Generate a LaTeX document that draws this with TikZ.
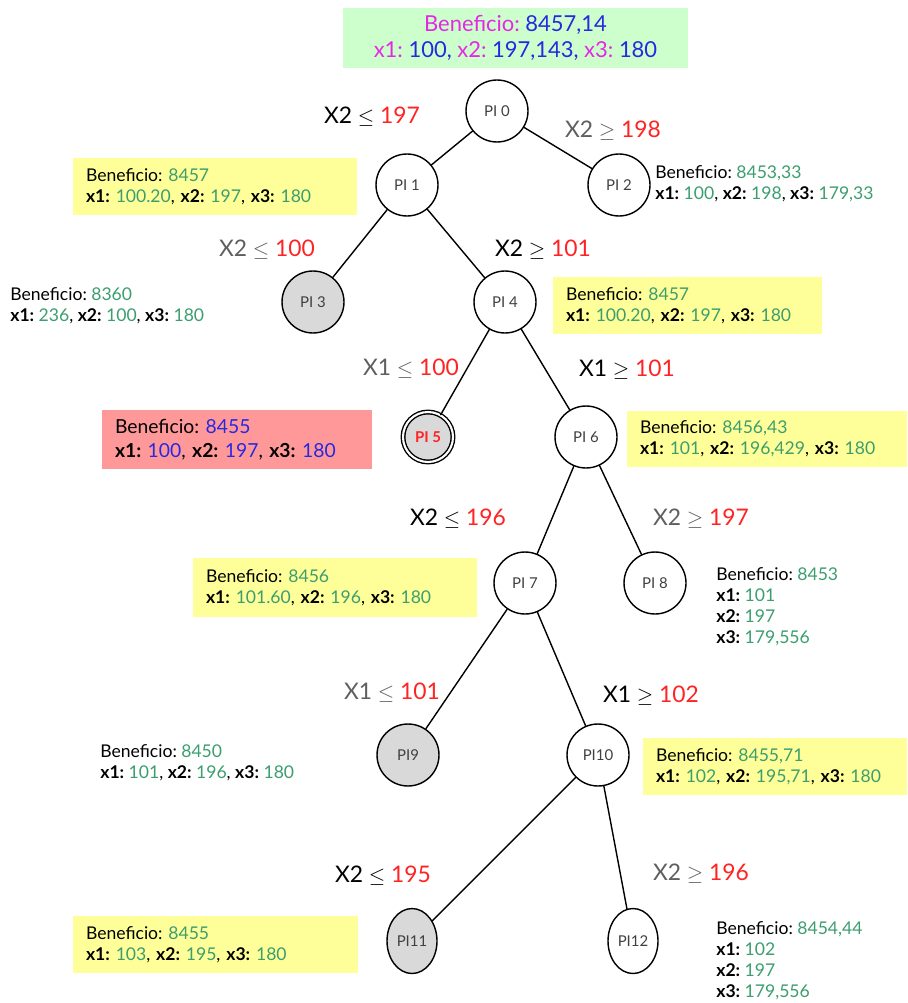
\documentclass[tikz,border=0pt]{standalone}
\usepackage{fontspec}
\setmainfont{Lato}
\usepackage{xcolor}
\usepackage{tikz}
\usetikzlibrary{shapes.geometric}
\definecolor{valgreen}{RGB}{60,158,110}
\definecolor{boxyellow}{RGB}{255,255,153}
\definecolor{boxgreen}{RGB}{204,255,204}
\definecolor{boxred}{RGB}{255,153,153}
\definecolor{topmag}{RGB}{230,40,230}
\definecolor{topblue}{RGB}{40,40,225}
\definecolor{cutred}{RGB}{255,35,35}
\definecolor{lblgray}{RGB}{95,95,95}
\definecolor{nodegray}{RGB}{217,217,217}
\frenchspacing
\newcommand{\ben}[1]{Beneficio: \textcolor{valgreen}{#1}}
\newcommand{\xv}[2]{\textbf{#1:} \textcolor{valgreen}{#2}}
\newcommand{\cutle}[2]{#1 $\leq$ \textcolor{cutred}{#2}}
\newcommand{\cutge}[2]{#1 $\geq$ \textcolor{cutred}{#2}}
\tikzset{
  pi/.style={circle,draw,thick,minimum size=1.24cm,inner sep=0pt,font=\fontsize{8.5}{9}\selectfont,text=black!75},
  pigray/.style={pi,fill=nodegray},
  piell/.style={ellipse,draw,thick,minimum width=1.0cm,minimum height=1.3cm,inner sep=0pt,font=\fontsize{8.5}{9}\selectfont,text=black!75},
  infobox/.style={fill=boxyellow,minimum height=1.14cm,inner xsep=0.26cm,text width=#1,align=left},
  infotext/.style={anchor=north west,inner sep=0pt,align=left},
  cut/.style={font=\fontsize{13}{15}\selectfont}
}
\begin{document}
\begin{tikzpicture}[line cap=round,line join=round,x=0.02cm,y=-0.02cm,font=\fontsize{10}{12}\selectfont\frenchspacing]
\useasboundingbox (0,0) rectangle (907,1003);
\node[fill=boxgreen,minimum width=6.9cm,minimum height=1.2cm,align=center,font=\fontsize{12.5}{15}\selectfont] (top) at (515.5,38)
  {\textcolor{topmag}{Beneficio:} \textcolor{topblue}{8457,14}\\
   \textcolor{topmag}{x1:} \textcolor{topblue}{100,} \textcolor{topmag}{x2:} \textcolor{topblue}{197,143,} \textcolor{topmag}{x3:} \textcolor{topblue}{180}};
\node[pi] (p0) at (497,111) {PI 0};
\node[pi] (p1) at (407,185) {PI 1};
\node[pi] (p2) at (619,185) {PI 2};
\node[pigray] (p3) at (313,302) {PI 3};
\node[pi] (p4) at (505,302) {PI 4};
\node[pigray,double,double distance=1.2pt,minimum size=1.0cm,text=cutred,font=\fontsize{8.5}{9}\selectfont\bfseries] (p5) at (428,437) {PI 5};
\node[pi] (p6) at (586,437) {PI 6};
\node[pi] (p7) at (525,583) {PI 7};
\node[pi] (p8) at (655,583) {PI 8};
\node[pigray] (p9) at (408,755) {PI9};
\node[pi] (p10) at (598,755) {PI10};
\node[piell,fill=nodegray] (p11) at (412,941) {PI11};
\node[piell] (p12) at (633,941) {PI12};
\draw[thick] (p0) -- (p1);
\draw[thick] (p0) -- (p2);
\draw[thick] (p1) -- (p3);
\draw[thick] (p1) -- (p4);
\draw[thick] (p4) -- (p5);
\draw[thick] (p4) -- (p6);
\draw[thick] (p6) -- (p7);
\draw[thick] (p6) -- (p8);
\draw[thick] (p7) -- (p9);
\draw[thick] (p7) -- (p10);
\draw[thick] (p10) -- (p11);
\draw[thick] (p10) -- (p12);
\node[cut] (c1) at (372,117) {\cutle{X2}{197}};
\node[cut,text=lblgray] (c2) at (613,131) {\cutge{X2}{198}};
\node[cut,text=lblgray] (c3) at (267,250) {\cutle{X2}{100}};
\node[cut] (c4) at (543,250) {\cutge{X2}{101}};
\node[cut,text=lblgray] (c5) at (411,369) {\cutle{X1}{100}};
\node[cut] (c6) at (627,370) {\cutge{X1}{101}};
\node[cut] (c7) at (458,519) {\cutle{X2}{196}};
\node[cut,text=lblgray] (c8) at (701,519) {\cutge{X2}{197}};
\node[cut,text=lblgray] (c9) at (392,693) {\cutle{X1}{101}};
\node[cut] (c10) at (651,696) {\cutge{X1}{102}};
\node[cut] (c11) at (383,876) {\cutle{X2}{195}};
\node[cut,text=lblgray] (c12) at (701,874) {\cutge{X2}{196}};
\node[infobox=5.16cm] (b1) at (215,186.5) {\ben{8457}\\ \xv{x1}{100.20}, \xv{x2}{197}, \xv{x3}{180}};
\node[infotext] (b2) at (655,165) {\ben{8453,33}\\ \xv{x1}{100}, \xv{x2}{198}, \xv{x3}{179,33}};
\node[infotext] (b3) at (10,287) {\ben{8360}\\ \xv{x1}{236}, \xv{x2}{100}, \xv{x3}{180}};
\node[infobox=4.86cm] (b4) at (687.5,305.5) {\ben{8457}\\ \xv{x1}{100.20}, \xv{x2}{197}, \xv{x3}{180}};
\node[infobox=4.88cm,fill=boxred,minimum height=1.18cm,font=\fontsize{11}{13.5}\selectfont] (b5) at (237,439.5)
  {Beneficio: \textcolor{topblue}{8455}\\ \textbf{x1:} \textcolor{topblue}{100}, \textbf{x2:} \textcolor{topblue}{197}, \textbf{x3:} \textcolor{topblue}{180}};
\node[infobox=5.08cm] (b6) at (767,439) {\ben{8456,43}\\ \xv{x1}{101}, \xv{x2}{196,429}, \xv{x3}{180}};
\node[infobox=5.16cm,minimum height=1.18cm] (b7) at (335,587.5) {\ben{8456}\\ \xv{x1}{101.60}, \xv{x2}{196}, \xv{x3}{180}};
\node[infotext] (b8) at (716,567) {\ben{8453}\\ \xv{x1}{101}\\ \xv{x2}{197}\\ \xv{x3}{179,556}};
\node[infotext] (b9) at (100,744) {\ben{8450}\\ \xv{x1}{101}, \xv{x2}{196}, \xv{x3}{180}};
\node[infobox=4.76cm] (b10) at (775,766.5) {\ben{8455,71}\\ \xv{x1}{102}, \xv{x2}{195,71}, \xv{x3}{180}};
\node[infobox=5.18cm] (b11) at (215.5,944.5) {\ben{8455}\\ \xv{x1}{103}, \xv{x2}{195}, \xv{x3}{180}};
\node[infotext] (b12) at (716,921) {\ben{8454,44}\\ \xv{x1}{102}\\ \xv{x2}{197}\\ \xv{x3}{179,556}};
\end{tikzpicture}
\end{document}
